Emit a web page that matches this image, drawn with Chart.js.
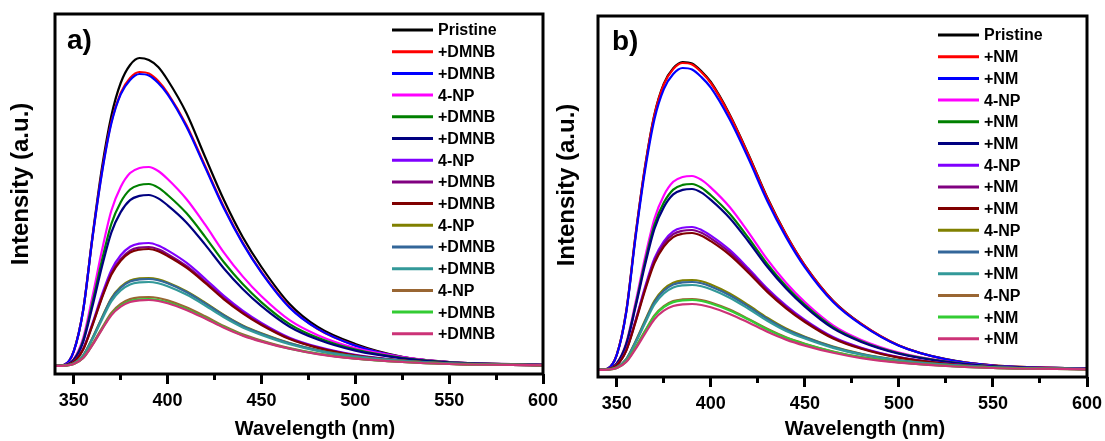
<!DOCTYPE html>
<html>
<head>
<meta charset="utf-8">
<script src="https://cdn.jsdelivr.net/npm/chart.js@4.4.0/dist/chart.umd.min.js"></script>
<style>
  html, body { margin: 0; padding: 0; background: #fff; }
  #wrap { position: relative; width: 1105px; height: 441px; overflow: hidden; background: #fff; }
  canvas { position: absolute; top: 0; }
  #chartA { left: 0; }
  #chartB { left: 552px; }
</style>
</head>
<body>
<div id="wrap">
  <canvas id="chartA" width="565" height="441"></canvas>
  <canvas id="chartB" width="553" height="441"></canvas>
</div>
<script>
// Wavelength grid (nm) and axis ticks
const wavelengths = [340, 345, 350, 355, 360, 365, 370, 375, 380, 385, 390, 395, 400, 410, 420, 430, 440, 450, 465, 480, 500, 525, 550, 600];
const xMajorTicks = [350, 400, 450, 500, 550, 600];
const xMinorTicks = [375, 425, 475, 525, 575];

// Legend names
const namesA = ['Pristine', '+DMNB', '+DMNB', '4-NP', '+DMNB', '+DMNB', '4-NP', '+DMNB', '+DMNB', '4-NP', '+DMNB', '+DMNB', '4-NP', '+DMNB', '+DMNB'];
const namesB = ['Pristine', '+NM', '+NM', '4-NP', '+NM', '+NM', '4-NP', '+NM', '+NM', '4-NP', '+NM', '+NM', '4-NP', '+NM', '+NM'];

const seriesColors = ['#000000', '#FF0000', '#0000FF', '#FF00FF', '#008000', '#000080', '#8000FF', '#800080',
  '#800000', '#808000', '#336699', '#339999', '#996633', '#33CC33', '#CC3377'];

// Panel a) intensities (a.u.)
const aPristine = [0, 1.2, 15, 56, 130, 198, 250, 283, 301, 308, 306, 299, 286, 253, 209, 166, 129, 99, 62, 39, 22, 9.2, 4, 1.2];
const aDmnb1 = [0, 1.2, 14.7, 55.9, 129, 194, 244, 273, 288, 294, 292.5, 285, 273, 241, 200, 159, 123.5, 94, 59, 37, 20.6, 8.8, 3.8, 1.2];
const aDmnb2 = [0, 1.2, 14.6, 55.5, 128.5, 192.7, 242.4, 271.6, 286, 292, 290.5, 283, 271.6, 239.4, 198.6, 157.7, 122.6, 93.4, 58.4, 37.1, 20.4, 8.8, 3.8, 1.2];
const aNp1 = [0, 0.8, 7, 27.9, 69.7, 115.4, 155.2, 179.1, 193, 198, 199, 195, 187, 167, 141.3, 113.4, 89.6, 69.7, 45.8, 30.8, 17.9, 9, 4, 1.2];
const aDmnb3 = [0, 0.7, 6.4, 25.5, 63.7, 105.6, 142, 163.8, 176.5, 181, 182, 178.4, 171, 152.9, 129.2, 103.7, 81.9, 63.7, 41.9, 28.2, 16.4, 8.2, 3.6, 1.1];
const aDmnb4 = [0, 0.7, 6, 23.9, 59.9, 99.2, 133.4, 153.9, 165.9, 170.1, 171, 167.6, 160.7, 143.6, 121.4, 97.5, 77, 59.9, 39.3, 26.5, 15.4, 7.7, 3.4, 1];
const aNp2 = [0, 0.5, 4.3, 17.2, 43, 71.3, 95.9, 110.7, 119.3, 122.4, 123, 120.5, 115.6, 103.3, 87.3, 70.1, 55.4, 43.1, 28.3, 19.1, 11.1, 5.5, 2.5, 0.7];
const aDmnb5 = [0, 0.5, 4.2, 16.7, 41.7, 69, 92.8, 107.1, 115.4, 118.4, 119, 116.6, 111.9, 100, 84.5, 67.8, 53.6, 41.7, 27.4, 18.4, 10.7, 5.4, 2.4, 0.7];
const aDmnb6 = [0, 0.5, 4.1, 16.4, 41, 67.9, 91.3, 105.3, 113.5, 116.4, 117, 114.7, 110, 98.3, 83.1, 66.7, 52.7, 41, 26.9, 18.1, 10.5, 5.3, 2.3, 0.7];
const aNp3 = [0, 0.4, 2.6, 10.6, 28.2, 48.4, 67.8, 79.2, 85.4, 87.6, 88, 86.7, 83.6, 74.8, 63.4, 51, 40.5, 32.6, 22.9, 15.8, 9.7, 5.3, 2.6, 0.9];
const aDmnb7 = [0, 0.4, 2.6, 10.4, 27.8, 47.9, 67, 78.3, 84.4, 86.6, 87, 85.7, 82.7, 74, 62.6, 50.5, 40, 32.2, 22.6, 15.7, 9.6, 5.2, 2.6, 0.9];
const aDmnb8 = [0, 0.4, 2.5, 10.1, 26.9, 46.2, 64.7, 75.6, 81.5, 83.6, 84, 82.7, 79.8, 71.4, 60.5, 48.7, 38.6, 31.1, 21.8, 15.1, 9.2, 5, 2.5, 0.8];
const aNp4 = [0, 0.3, 2.1, 8.3, 22.1, 38, 53.1, 62.1, 66.9, 68.7, 69, 68, 65.6, 58.7, 49.7, 40, 31.7, 25.5, 17.9, 12.4, 7.6, 4.1, 2.1, 0.7];
const aDmnb9 = [0, 0.3, 2, 8, 21.4, 36.9, 51.6, 60.3, 65, 66.7, 67, 66, 63.7, 57, 48.2, 38.9, 30.8, 24.8, 17.4, 12.1, 7.4, 4, 2, 0.7];
const aDmnb10 = [0, 0.3, 2, 7.9, 21.1, 36.3, 50.8, 59.4, 64, 65.7, 66, 65, 62.7, 56.1, 47.5, 38.3, 30.4, 24.4, 17.2, 11.9, 7.3, 4, 2, 0.7];

// Panel b) intensities (a.u.)
const bPristine = [0, 1.2, 15.4, 58.5, 135.5, 203.3, 255.6, 286.4, 301.8, 308, 306.5, 298.8, 288, 255.6, 215.6, 172.5, 135.5, 104.7, 69.3, 46.2, 24.6, 10.8, 4.6, 1.5];
const bNm1 = [0, 1.2, 15.4, 58.3, 135.1, 202.6, 254.8, 285.5, 300.9, 307, 305.5, 297.8, 287, 254.8, 214.9, 171.9, 135.1, 104.4, 69.1, 46, 24.6, 10.7, 4.6, 1.5];
const bNm2 = [0, 1.2, 15.1, 57.4, 132.9, 199.3, 250.7, 280.9, 296, 302, 300.5, 292.9, 282.4, 250.7, 211.4, 169.1, 132.9, 102.7, 68, 45.3, 24.2, 10.6, 4.5, 1.5];
const bNp1 = [0, 0.8, 6.8, 27.2, 67.9, 112.5, 151.3, 174.6, 188.2, 193, 194, 190.1, 182.4, 163, 137.7, 110.6, 87.3, 67.9, 44.6, 30.1, 17.5, 8.7, 3.9, 1.2];
const bNm3 = [0, 0.7, 6.5, 26, 65.1, 107.9, 145.1, 167.4, 180.4, 185.1, 186, 182.3, 174.8, 156.2, 132.1, 106, 83.7, 65.1, 42.8, 28.8, 16.7, 8.4, 3.7, 1.1];
const bNm4 = [0, 0.7, 6.3, 25.3, 63.4, 105, 141.2, 162.9, 175.6, 180.1, 181, 177.4, 170.1, 152, 128.5, 103.2, 81.5, 63.4, 41.6, 28.1, 16.3, 8.1, 3.6, 1.1];
const bNp2 = [0, 0.6, 5, 20, 50, 82.9, 111.5, 128.7, 138.7, 142.3, 143, 140.1, 134.4, 120.1, 101.5, 81.5, 64.4, 50, 32.9, 22.2, 12.9, 6.4, 2.9, 0.9];
const bNm5 = [0, 0.6, 4.9, 19.6, 49, 81.2, 109.2, 126, 135.8, 139.3, 140, 137.2, 131.6, 117.6, 99.4, 79.8, 63, 49, 32.2, 21.7, 12.6, 6.3, 2.8, 0.8];
const bNm6 = [0, 0.5, 4.8, 19.2, 48, 79.5, 106.9, 123.3, 132.9, 136.3, 137, 134.3, 128.8, 115.1, 97.3, 78.1, 61.7, 48, 31.5, 21.2, 12.3, 6.2, 2.7, 0.8];
const bNp3 = [0, 0.5, 2.7, 10.8, 28.8, 49.5, 69.3, 81, 87.3, 89.6, 90, 88.7, 85.5, 76.5, 64.8, 52.2, 41.4, 33.3, 23.4, 16.2, 9.9, 5.4, 2.7, 0.9];
const bNm7 = [0, 0.4, 2.6, 10.6, 28.2, 48.4, 67.8, 79.2, 85.4, 87.6, 88, 86.7, 83.6, 74.8, 63.4, 51, 40.5, 32.6, 22.9, 15.8, 9.7, 5.3, 2.6, 0.9];
const bNm8 = [0, 0.4, 2.6, 10.2, 27.2, 46.8, 65.5, 76.5, 82.5, 84.6, 85, 83.7, 80.8, 72.3, 61.2, 49.3, 39.1, 31.5, 22.1, 15.3, 9.4, 5.1, 2.6, 0.9];
const bNp4 = [0, 0.4, 2.1, 8.5, 22.7, 39.1, 54.7, 63.9, 68.9, 70.6, 71, 69.9, 67.5, 60.4, 51.1, 41.2, 32.7, 26.3, 18.5, 12.8, 7.8, 4.3, 2.1, 0.7];
const bNm9 = [0, 0.4, 2.1, 8.4, 22.4, 38.5, 53.9, 63, 67.9, 69.7, 70, 69, 66.5, 59.5, 50.4, 40.6, 32.2, 25.9, 18.2, 12.6, 7.7, 4.2, 2.1, 0.7];
const bNm10 = [0, 0.3, 2, 7.9, 21.1, 36.3, 50.8, 59.4, 64, 65.7, 66, 65, 62.7, 56.1, 47.5, 38.3, 30.4, 24.4, 17.2, 11.9, 7.3, 4, 2, 0.7];

const seriesA = [aPristine, aDmnb1, aDmnb2, aNp1, aDmnb3, aDmnb4, aNp2, aDmnb5, aDmnb6, aNp3, aDmnb7, aDmnb8, aNp4, aDmnb9, aDmnb10];
const seriesB = [bPristine, bNm1, bNm2, bNp1, bNm3, bNm4, bNp2, bNm5, bNm6, bNp3, bNm7, bNm8, bNp4, bNm9, bNm10];

const FONT = '"Liberation Sans", Arial, Helvetica, sans-serif';

// Frame, legend, panel tag and axis titles
const panelDecor = {
    id: 'panelDecor',
    afterDraw(chart, args, opts) {
        const { ctx, chartArea: a } = chart;
        ctx.save();
        ctx.strokeStyle = '#000';
        ctx.lineWidth = 3;
        ctx.strokeRect(a.left, a.top, a.right - a.left, a.bottom - a.top);

        ctx.font = `bold 16px ${FONT}`;
        ctx.textBaseline = 'middle';
        ctx.textAlign = 'left';
        ctx.fillStyle = '#000';
        chart.data.datasets.forEach((ds, i) => {
            const y = opts.legendTop + i * opts.legendStep;
            ctx.strokeStyle = ds.borderColor;
            ctx.lineWidth = 3;
            ctx.beginPath();
            ctx.moveTo(opts.legendX, y);
            ctx.lineTo(opts.legendX + 41, y);
            ctx.stroke();
            ctx.fillText(ds.label, opts.legendX + 46, y + 1);
        });

        ctx.font = `bold 28px ${FONT}`;
        ctx.textBaseline = 'alphabetic';
        ctx.fillText(opts.tag, opts.tagX, opts.tagY);

        ctx.font = `bold 20px ${FONT}`;
        ctx.textAlign = 'center';
        ctx.fillText('Wavelength (nm)', opts.xTitleX, opts.xTitleY);

        ctx.translate(opts.yTitleX, opts.yTitleY);
        ctx.rotate(-Math.PI / 2);
        ctx.font = `bold 24px ${FONT}`;
        ctx.textBaseline = 'middle';
        ctx.fillText('Intensity (a.u.)', 0, 0);
        ctx.restore();
    }
};

function makeChart(id, series, names, frame) {
    const ctx = document.getElementById(id).getContext('2d');
    return new Chart(ctx, {
        type: 'line',
        data: {
            labels: wavelengths,
            datasets: series.map((s, i) => ({
                label: names[i],
                data: s,
                xAxisID: 'x',
                yAxisID: 'y',
                borderColor: seriesColors[i],
                borderWidth: 2.2,
                pointRadius: 0,
                fill: false,
                cubicInterpolationMode: 'monotone',
                order: series.length - i
            }))
        },
        options: {
            responsive: false,
            animation: false,
            events: [],
            layout: { padding: { left: frame.left, top: frame.top, right: frame.right, bottom: 0 } },
            plugins: {
                legend: { display: false },
                tooltip: { enabled: false },
                panelDecor: frame.decor
            },
            scales: {
                x: {
                    type: 'linear',
                    position: 'bottom',
                    weight: 1,
                    min: 340,
                    max: 600,
                    afterBuildTicks: s => { s.ticks = xMajorTicks.map(v => ({ value: v })); },
                    afterFit: s => { s.height = frame.axisHeight; s.paddingLeft = 0; s.paddingRight = 0; },
                    grid: { drawOnChartArea: false, drawTicks: true, tickLength: 10, tickWidth: 3, tickColor: '#000' },
                    border: { display: false },
                    ticks: {
                        color: '#000',
                        autoSkip: false,
                        maxRotation: 0,
                        padding: 6,
                        font: { family: FONT, size: 18, weight: 'bold' }
                    }
                },
                xMinor: {
                    type: 'linear',
                    position: 'bottom',
                    weight: 0,
                    min: 340,
                    max: 600,
                    afterBuildTicks: s => { s.ticks = xMinorTicks.map(v => ({ value: v })); },
                    afterFit: s => { s.height = 0; s.paddingLeft = 0; s.paddingRight = 0; },
                    grid: { drawOnChartArea: false, drawTicks: true, tickLength: 6, tickWidth: 3, tickColor: '#000' },
                    border: { display: false },
                    ticks: { display: false, autoSkip: false }
                },
                y: { display: false, min: frame.yMin, max: frame.yMax }
            }
        },
        plugins: [panelDecor]
    });
}

makeChart('chartA', seriesA, namesA, {
    left: 55, top: 14, right: 22, axisHeight: 67, yMin: -8, yMax: 352,
    decor: { legendX: 392, legendTop: 30, legendStep: 21.7, tag: 'a)', tagX: 67, tagY: 49,
        xTitleX: 315, xTitleY: 435, yTitleX: 21, yTitleY: 184 }
});

makeChart('chartB', seriesB, namesB, {
    left: 46, top: 16, right: 18, axisHeight: 64, yMin: -7, yMax: 354,
    decor: { legendX: 386, legendTop: 35, legendStep: 21.7, tag: 'b)', tagX: 60, tagY: 50,
        xTitleX: 313, xTitleY: 435, yTitleX: 15, yTitleY: 185 }
});
</script>
</body>
</html>
